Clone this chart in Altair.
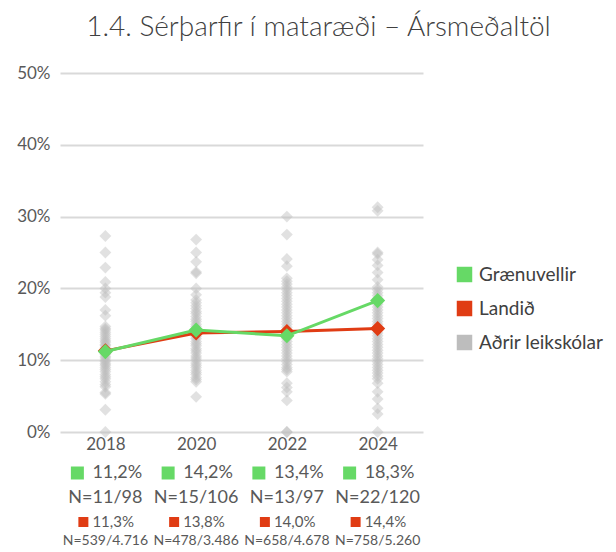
import altair as alt
import pandas as pd

years = ["2018", "2020", "2022", "2024"]
graenuvellir = [11.2, 14.2, 13.4, 18.3]
landid = [11.3, 13.8, 14.0, 14.4]
graen_n = ["N=11/98", "N=15/106", "N=13/97", "N=22/120"]
land_n = ["N=539/4.716", "N=478/3.486", "N=658/4.678", "N=758/5.260"]

others_2018 = [27.3, 25.0, 22.9, 20.9, 20.0, 19.4, 18.8, 17.0, 16.2, 14.7, 14.4, 14.2, 13.9,
               13.6, 13.3, 13.0, 12.7, 12.5, 12.2, 12.0, 11.7, 11.5, 11.2, 11.0, 10.8, 10.5,
               10.3, 10.0, 9.8, 9.5, 9.3, 9.0, 8.7, 8.4, 8.0, 7.7, 7.4, 7.0, 6.6, 6.3, 5.5,
               5.3, 3.1, 0.0]
others_2020 = [26.8, 25.0, 23.7, 22.3, 22.1, 20.0, 19.1, 18.4, 18.0, 17.6, 17.2, 16.8, 16.5,
               16.1, 15.7, 15.4, 15.0, 14.7, 14.3, 14.0, 13.6, 13.3, 13.0, 12.6, 12.3, 12.0,
               11.6, 11.3, 11.0, 10.6, 10.3, 10.0, 9.6, 9.3, 9.0, 8.6, 8.3, 8.0, 7.6, 7.3,
               7.0, 4.9]
others_2022 = [30.0, 27.5, 24.1, 23.1, 21.4, 21.0, 20.6, 20.2, 19.8, 19.4, 19.0, 18.6, 18.2,
               17.8, 17.4, 17.0, 16.6, 16.2, 15.8, 15.4, 15.0, 14.6, 14.2, 13.8, 13.4, 13.0,
               12.6, 12.2, 11.8, 11.4, 11.0, 10.6, 10.2, 9.8, 9.4, 9.0, 8.7, 8.4, 6.8, 6.2,
               5.6, 4.4, 0.0, 0.0]
others_2024 = [31.3, 30.8, 25.0, 24.8, 24.0, 23.2, 22.2, 21.2, 20.2, 19.8, 19.4, 19.0, 18.6,
               18.2, 17.8, 17.4, 17.0, 16.6, 16.2, 15.8, 15.4, 15.0, 14.6, 14.2, 13.8, 13.4,
               13.0, 12.6, 12.2, 11.8, 11.4, 11.0, 10.6, 10.2, 9.8, 9.4, 9.0, 8.6, 8.2, 7.8,
               7.4, 6.8, 5.6, 4.6, 3.3, 2.5, 0.0]

series_names = ["Grænuvellir", "Landið", "Aðrir leikskólar"]
series_colors = ["#66d966", "#e03c14", "#bdbdbd"]

GREEN, RED = series_colors[0], series_colors[1]
TEXT = "#595959"


def pct(v):
    return f"{v:.1f}".replace(".", ",") + "%"


others_df = pd.DataFrame(
    [{"year": y, "series": series_names[2], "value": v}
     for y, vals in zip(years, [others_2018, others_2020, others_2022, others_2024])
     for v in vals]
)
green_df = pd.DataFrame({"year": years, "series": series_names[0], "value": graenuvellir})
red_df = pd.DataFrame({"year": years, "series": series_names[1], "value": landid})
table_df = pd.DataFrame({
    "year": years,
    "gpct": [pct(v) for v in graenuvellir],
    "gn": graen_n,
    "rpct": [pct(v) for v in landid],
    "rn": land_n,
})

x_enc = alt.X(
    "year:O",
    scale=alt.Scale(type="point", padding=0.5),
    axis=alt.Axis(title=None, labelAngle=0, ticks=False, domain=False, grid=False,
                  labelFontSize=17, labelColor=TEXT, labelPadding=4),
)
y_enc = alt.Y(
    "value:Q",
    scale=alt.Scale(domain=[0, 50], nice=False),
    axis=alt.Axis(title=None, values=[0, 10, 20, 30, 40, 50], labelExpr="datum.value + '%'",
                  ticks=False, domain=False, grid=True, gridColor="#d9d9d9", gridWidth=2,
                  labelFontSize=17, labelColor=TEXT, labelPadding=10),
)
color_enc = alt.Color(
    "series:N",
    scale=alt.Scale(domain=series_names, range=series_colors),
    legend=alt.Legend(title=None, orient="none", legendX=395, legendY=192,
                      symbolType="square", symbolSize=240, symbolOpacity=1,
                      symbolStrokeWidth=0, labelFontSize=19, labelColor="#404040",
                      rowPadding=14, labelOffset=5, labelLimit=300),
)

pts = alt.Chart(others_df).mark_point(
    shape="diamond", filled=True, size=140, opacity=0.45
).encode(x=x_enc, y=y_enc, color=color_enc)

red_line = alt.Chart(red_df).mark_line(
    strokeWidth=3,
    point=alt.OverlayMarkDef(shape="diamond", filled=True, size=230, opacity=1),
).encode(x=x_enc, y=y_enc, color=color_enc)

green_line = alt.Chart(green_df).mark_line(
    strokeWidth=3,
    point=alt.OverlayMarkDef(shape="diamond", filled=True, size=230, opacity=1),
).encode(x=x_enc, y=y_enc, color=color_enc)

tbase = alt.Chart(table_df)
g_sq = tbase.mark_point(shape="square", filled=True, size=169, opacity=1, color=GREEN).encode(
    x=x_enc, xOffset=alt.value(-28), y=alt.value(400))
g_txt = tbase.mark_text(align="left", baseline="middle", dx=-13, fontSize=18, color=TEXT).encode(
    x=x_enc, y=alt.value(400), text="gpct:N")
g_n = tbase.mark_text(align="center", baseline="middle", fontSize=18, color=TEXT).encode(
    x=x_enc, y=alt.value(425), text="gn:N")
r_sq = tbase.mark_point(shape="square", filled=True, size=100, opacity=1, color=RED).encode(
    x=x_enc, xOffset=alt.value(-22), y=alt.value(449))
r_txt = tbase.mark_text(align="left", baseline="middle", dx=-13, fontSize=15, color=TEXT).encode(
    x=x_enc, y=alt.value(449), text="rpct:N")
r_n = tbase.mark_text(align="center", baseline="middle", fontSize=14, color=TEXT).encode(
    x=x_enc, y=alt.value(468), text="rn:N")

chart = alt.layer(pts, red_line, green_line, g_sq, g_txt, g_n, r_sq, r_txt, r_n).properties(
    width=363,
    height=359,
    autosize="none",
    padding={"left": 52, "top": 65, "right": 184, "bottom": 118},
    title=alt.TitleParams(
        "1.4. Sérþarfir í mataræði – Ársmeðaltöl",
        fontSize=28, fontWeight=300, color="#404040", anchor="middle",
        dx=77, offset=22, font="Lato",
    ),
).configure(font="Lato").configure_view(stroke=None)

chart.save("out.html", embed_options={"renderer": "svg", "actions": False})
